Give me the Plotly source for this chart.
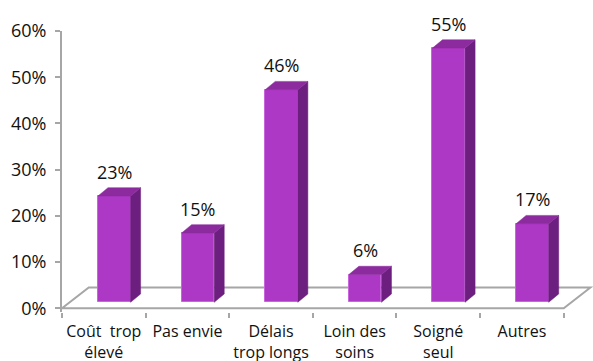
import plotly.graph_objects as go

# ---- data ----
categories = ["Coût  trop<br>élevé", "Pas envie", "Délais<br>trop longs",
              "Loin des<br>soins", "Soigné<br>seul", "Autres"]
values = [23, 15, 46, 6, 55, 17]
value_labels = ["23%", "15%", "46%", "6%", "55%", "17%"]
y_tick_vals = [0, 10, 20, 30, 40, 50, 60]
y_tick_text = ["0%", "10%", "20%", "30%", "40%", "50%", "60%"]

# ---- 3D styling constants (in axis units) ----
BAR_OFF = 0.125   # front face shift from category centre
BAR_W = 0.39      # front face width
BASE = 1.3        # bar base above floor front edge
DX, DY = 0.12, 1.8            # bar depth
FDX, FDY = 0.32, 4.5          # floor depth
LABEL_SHIFT = 16              # px above the bar's back top edge

FRONT = "#AE38C6"
SIDE = "#6C1F7E"
TOP = "#8B2B9E"
GRID = "#A6A6A6"
FONT = "Open Sans"
TXT = "#111111"

n = len(categories)
xs = [i + BAR_OFF for i in range(n)]

fig = go.Figure()

# front faces
fig.add_trace(go.Bar(x=xs, y=values, base=BASE, width=BAR_W,
                     marker=dict(color=FRONT, line=dict(color="#C865DD", width=1)),
                     hoverinfo="skip", showlegend=False))

# side faces and top faces built from the values
side_x, side_y, top_x, top_y = [], [], [], []
for x, v in zip(xs, values):
    xl, xr = x - BAR_W / 2, x + BAR_W / 2
    yb, yt = BASE, BASE + v
    side_x += [xr, xr + DX, xr + DX, xr, xr, None]
    side_y += [yb, yb + DY, yt + DY, yt, yb, None]
    top_x += [xl, xr, xr + DX, xl + DX, xl, None]
    top_y += [yt, yt, yt + DY, yt + DY, yt, None]

fig.add_trace(go.Scatter(x=side_x, y=side_y, mode="lines", fill="toself",
                         fillcolor=SIDE, line=dict(color=SIDE, width=0.5),
                         hoverinfo="skip", showlegend=False))
fig.add_trace(go.Scatter(x=top_x, y=top_y, mode="lines", fill="toself",
                         fillcolor=TOP, line=dict(color=TOP, width=0.5),
                         hoverinfo="skip", showlegend=False))

# value labels
for x, v, t in zip(xs, values, value_labels):
    fig.add_annotation(x=x, y=BASE + v + DY, xref="x", yref="y", yshift=LABEL_SHIFT,
                       text=t, showarrow=False, xanchor="center", yanchor="middle",
                       font=dict(family=FONT, size=18, color=TXT))

# floor
x0, x1 = -0.5, n - 0.5
fig.add_shape(type="path", layer="below", xref="x", yref="y",
              path=f"M {x0},0 L {x1},0 L {x1 + FDX},{FDY} L {x0 + FDX},{FDY} Z",
              line=dict(color=GRID, width=2), fillcolor="rgba(0,0,0,0)")

fig.update_layout(
    width=593, height=361,
    margin=dict(l=62, r=0, t=31, b=49),
    paper_bgcolor="white", plot_bgcolor="white",
    bargap=0,
    xaxis=dict(range=[-0.5, n - 0.5 + 0.35], tickmode="array",
               tickvals=list(range(n)), ticktext=categories, ticks="",
               ticklabelstandoff=8, automargin=False,
               showgrid=False, zeroline=False, showline=False,
               tickfont=dict(family=FONT, size=16, color=TXT),
               minor=dict(tickmode="array", tickvals=[i - 0.5 for i in range(n + 1)],
                          ticks="outside", ticklen=5, tickwidth=2, tickcolor=GRID,
                          showgrid=False)),
    yaxis=dict(range=[-0.8, 60], tickmode="array", tickvals=y_tick_vals,
               ticktext=y_tick_text, ticks="outside", ticklen=5, tickwidth=2,
               ticklabelstandoff=5, automargin=False,
               tickcolor=GRID, showline=True, linecolor=GRID, linewidth=2,
               showgrid=False, zeroline=False,
               tickfont=dict(family=FONT, size=18, color=TXT)),
)

fig.write_html("out.html")
